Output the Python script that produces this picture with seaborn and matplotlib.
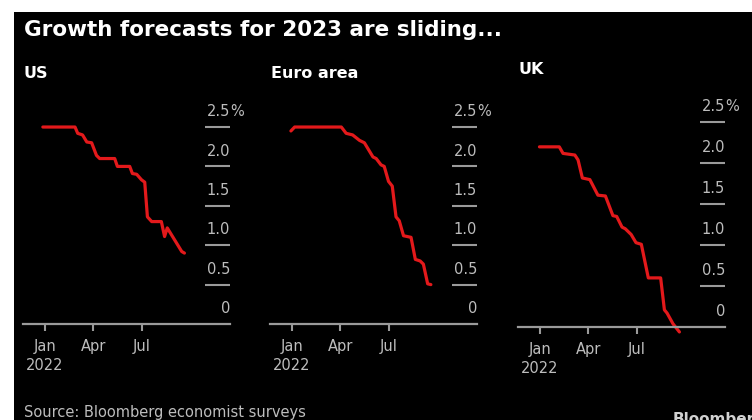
import matplotlib
matplotlib.use("Agg")
import matplotlib.pyplot as plt
from matplotlib.patches import Rectangle
import pandas as pd
import seaborn as sns

# ---- data ----
us_dates = ["2021-12-28", "2022-02-26", "2022-03-03", "2022-03-12", "2022-03-20", "2022-03-29",
            "2022-04-07", "2022-04-13", "2022-05-11", "2022-05-16", "2022-06-08", "2022-06-13",
            "2022-06-21", "2022-06-30", "2022-07-06", "2022-07-11", "2022-07-19", "2022-08-06",
            "2022-08-12", "2022-08-17", "2022-09-13", "2022-09-18"]
us_values = [2.5, 2.5, 2.42, 2.4, 2.31, 2.3, 2.14, 2.1, 2.1, 2.0, 2.0, 1.91,
             1.9, 1.83, 1.8, 1.36, 1.3, 1.3, 1.11, 1.22, 0.92, 0.9]

euro_dates = ["2021-12-30", "2022-01-06", "2022-04-03", "2022-04-12", "2022-04-24", "2022-05-07",
              "2022-05-16", "2022-06-01", "2022-06-07", "2022-06-16", "2022-06-22", "2022-06-30",
              "2022-07-07", "2022-07-14", "2022-07-20", "2022-07-28", "2022-08-11", "2022-08-19",
              "2022-08-28", "2022-09-03", "2022-09-11", "2022-09-17"]
euro_values = [2.45, 2.5, 2.5, 2.42, 2.4, 2.33, 2.3, 2.12, 2.1, 2.02, 2.0, 1.81,
               1.75, 1.36, 1.31, 1.12, 1.1, 0.82, 0.8, 0.76, 0.51, 0.5]

uk_dates = ["2021-12-31", "2022-02-06", "2022-02-13", "2022-03-07", "2022-03-13", "2022-03-21",
            "2022-04-04", "2022-04-19", "2022-05-03", "2022-05-17", "2022-05-24", "2022-06-03",
            "2022-06-09", "2022-06-20", "2022-06-29", "2022-07-09", "2022-07-22", "2022-08-14",
            "2022-08-21", "2022-08-26", "2022-09-06", "2022-09-18"]
uk_values = [2.2, 2.2, 2.12, 2.1, 2.04, 1.82, 1.8, 1.61, 1.6, 1.36, 1.35, 1.22,
             1.2, 1.13, 1.03, 1.01, 0.6, 0.6, 0.21, 0.17, 0.04, -0.06]

panel_titles = ["US", "Euro area", "UK"]
y_ticks = [0, 0.5, 1.0, 1.5, 2.0, 2.5]
y_tick_labels = ["0", "0.5", "1.0", "1.5", "2.0", "2.5"]
x_ticks = ["2022-01-01", "2022-04-01", "2022-07-01"]
x_tick_labels = ["Jan\n2022", "Apr", "Jul"]

# ---- style ----
sns.set_style("dark", {"axes.facecolor": "black", "figure.facecolor": "white"})
plt.rcParams["font.family"] = ["DejaVu Sans"]

W, H = 752, 420
fig = plt.figure(figsize=(W / 100, H / 100), dpi=100)
fig.patches.append(Rectangle((14 / W, 0), 1 - 14 / W, (H - 12) / H,
                             transform=fig.transFigure, facecolor="black",
                             edgecolor="none", zorder=-10))

RED = "#e3191b"
GRAY_TXT = "#bdbdbd"
GRAY_LINE = "#9a9a9a"

# pixel layout per panel: left, right, top, bottom pixel; ylim
panels = [
    (us_dates, us_values, 23, 230, 100, 324, (0, 2.843)),
    (euro_dates, euro_values, 270, 477, 100, 324, (0, 2.843)),
    (uk_dates, uk_values, 518, 725, 97.7, 333.6, (-0.08, 2.8)),
]

for i, (dates, vals, lp, rp, tp, bp, ylim) in enumerate(panels):
    ax = fig.add_axes([lp / W, 1 - bp / H, (rp - lp) / W, (bp - tp) / H], zorder=1)
    ax.set_facecolor("none")
    ax.patch.set_visible(False)
    df = pd.DataFrame({"date": pd.to_datetime(dates), "value": vals})
    sns.lineplot(data=df, x="date", y="value", ax=ax, color=RED, linewidth=2.3,
                 estimator=None, sort=False)
    ax.set_xlim(pd.Timestamp("2021-11-21"), pd.Timestamp("2022-12-12"))
    ax.set_ylim(*ylim)
    for s in ["top", "left", "right"]:
        ax.spines[s].set_visible(False)
    ax.spines["bottom"].set_position(("data", 0))
    ax.spines["bottom"].set_color(GRAY_LINE)
    ax.spines["bottom"].set_linewidth(1.6)
    ax.set_xticks(pd.to_datetime(x_ticks))
    ax.set_xticklabels(x_tick_labels, color=GRAY_TXT, fontsize=10.5, linespacing=1.3)
    ax.tick_params(axis="x", length=5, width=1.5, color=GRAY_LINE, pad=6, bottom=True)
    ax.set_yticks([])
    ax.set_xlabel("")
    ax.set_ylabel("")
    ax.grid(False)
    ytr = ax.get_yaxis_transform()
    for v, lab in zip(y_ticks, y_tick_labels):
        if v != 0:
            ax.plot([0.88, 1.0], [v, v], transform=ytr, color=GRAY_LINE, lw=1.5,
                    solid_capstyle="butt", clip_on=False)
        ax.annotate(lab, xy=(1.0, v), xycoords=ytr, xytext=(0, 11), textcoords="offset points",
                    ha="right", va="center", color=GRAY_TXT, fontsize=10.5, annotation_clip=False)
        if v == 2.5:
            ax.annotate("%", xy=(1.0, v), xycoords=ytr, xytext=(0, 11), textcoords="offset points",
                        ha="left", va="center", color=GRAY_TXT, fontsize=10.5, annotation_clip=False)
    sub_x = [24, 271, 519][i]
    sub_y = [73, 73, 70][i]
    fig.text(sub_x / W, 1 - sub_y / H, panel_titles[i], color="white", fontsize=11.5,
             fontweight="bold", ha="left", va="center")

fig.text(24 / W, 1 - 30 / H, "Growth forecasts for 2023 are sliding...", color="white",
         fontsize=15.5, fontweight="bold", ha="left", va="center")
fig.text(24 / W, 1 - 405 / H, "Source: Bloomberg economist surveys", color=GRAY_TXT,
         fontsize=10.5, ha="left", va="top")
fig.text(673 / W, 1 - 412 / H, "Bloomberg", color="#d0d0d0", fontsize=11,
         fontweight="bold", ha="left", va="top")

fig.savefig("out.png", dpi=100)
